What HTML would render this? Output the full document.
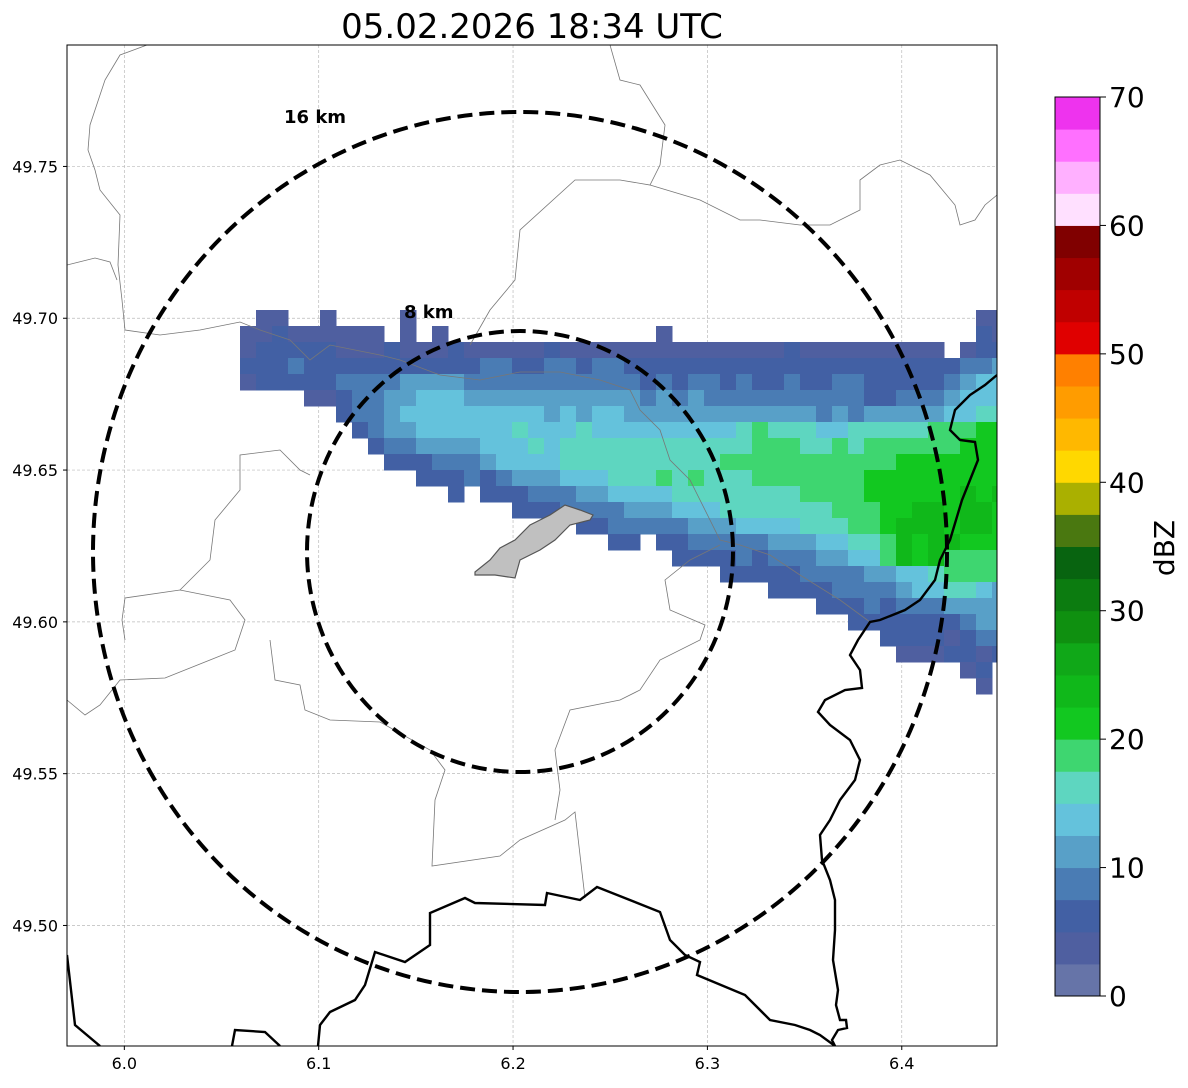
<!DOCTYPE html>
<html><head><meta charset="utf-8">
<style>
html,body{margin:0;padding:0;background:#fff;}
body{width:1188px;height:1084px;overflow:hidden;font-family:"DejaVu Sans","Liberation Sans",sans-serif;}
</style></head>
<body>
<svg id="chart" width="1188" height="1084" xmlns="http://www.w3.org/2000/svg" font-family="DejaVu Sans, Liberation Sans, sans-serif">
<defs><clipPath id="plotclip"><rect x="67" y="45" width="930" height="1001"/></clipPath></defs>
<text x="532" y="38" font-size="34" text-anchor="middle">05.02.2026 18:34 UTC</text>
<g id="grid"></g>
<g id="cells" clip-path="url(#plotclip)"></g>
<g id="map" clip-path="url(#plotclip)" fill="none">
 <polyline stroke="#777" stroke-width="0.8" points="147,45 120,55 105,80 90,125 88,150 95,170 100,190 120,215 118,265 122,300 125,330 160,335 200,330 240,322 260,330 290,340 310,360 330,345 380,355 400,360 440,375 480,380 520,372 560,372 600,380 630,390 640,410 660,430 670,460 690,480 720,540 740,545 770,555 800,575 840,600 870,622"/>
 <polyline stroke="#777" stroke-width="0.8" points="67,265 95,258 110,262 117,280"/>
 <polyline stroke="#777" stroke-width="0.8" points="470,345 490,310 515,280 520,230 575,180 620,180 650,185 660,165 665,125 640,85 620,80 610,45"/>
 <polyline stroke="#777" stroke-width="0.8" points="650,185 700,200 740,220 760,220 800,225 830,225 860,210 860,180 880,165 900,160 930,175 955,205 960,225 975,220 985,205 997,195"/>
 <polyline stroke="#777" stroke-width="0.8" points="67,700 85,715 100,705 120,680 165,678 210,660 235,650 245,620 230,600 180,590 125,598 122,620 125,640"/>
 <polyline stroke="#777" stroke-width="0.8" points="180,590 210,560 215,520 240,490 240,455 280,450 300,470 310,475"/>
 <polyline stroke="#777" stroke-width="0.8" points="270,640 275,680 300,685 305,710 330,720 380,722 430,750 445,770 435,800 432,866 500,856 520,840 565,820 575,812 585,898"/>
 <polyline stroke="#777" stroke-width="0.8" points="555,820 560,790 555,750 570,710 620,700 640,690 660,660 700,640 705,625 670,610 665,580 690,560 720,545"/>
 <polyline stroke="#000" stroke-width="2.4" points="997,375 985,385 970,395 955,410 950,430 960,440 975,442 978,460 970,480 962,500 950,540 940,560 935,580 920,600 905,610 880,620 870,622 858,640 850,655 860,670 862,688 845,690 825,700 818,712 830,725 850,740 860,760 855,780 840,800 830,820 820,835 822,860 830,880 835,900 835,930 833,960 838,990 836,1005 840,1020 846,1020 847,1028 838,1030 832,1040 835,1046"/>
 <polyline stroke="#000" stroke-width="2.4" points="67,955 75,1025 100,1046"/>
 <polyline stroke="#000" stroke-width="2.4" points="232,1046 235,1030 265,1032 280,1046"/>
 <polyline stroke="#000" stroke-width="2.4" points="318,1046 320,1025 330,1012 355,1000 365,985 375,952 405,962 430,945 430,913 465,898 475,903 545,905 547,893 580,900 597,887 660,912 670,940 685,955 700,962 697,975 745,995 770,1020 795,1025 810,1030 820,1035 835,1046"/>
 <polygon fill="#c0c0c0" stroke="#555" stroke-width="1.2" points="475,572 490,560 500,548 515,540 530,525 540,520 550,515 565,505 580,510 593,515 590,520 570,525 555,540 540,550 520,560 515,578 495,575 475,575"/>
 <ellipse cx="520" cy="552" rx="427" ry="440" stroke="#000" stroke-width="4" stroke-dasharray="15,7"/>
 <ellipse cx="520" cy="551.5" rx="213" ry="220.5" stroke="#000" stroke-width="4" stroke-dasharray="15,7"/>
</g>
<text x="284" y="123" font-size="18" font-weight="bold">16 km</text>
<text x="404" y="318" font-size="18" font-weight="bold">8 km</text>
<rect x="67" y="45" width="930" height="1001" fill="none" stroke="#000" stroke-width="1"/>
<g id="axes"></g>
<g id="cbar"></g>
<text transform="translate(1174,548) rotate(-90)" font-size="28" text-anchor="middle">dBZ</text>
</svg>
<script>
const NS='http://www.w3.org/2000/svg';
const xTicks=[6.0,6.1,6.2,6.3,6.4];
const yTicks=[49.50,49.55,49.60,49.65,49.70,49.75];
const cbarTicks=[0,10,20,30,40,50,60,70];
const levelColors=['#6674a8','#4f5fa0','#4260a4','#4a7cb4','#58a0c8','#64c2dc','#5ed6c0','#3ed670','#12c820','#10b81a','#10a818','#0f9010','#0c7c10','#086410','#4a7810','#aab000','#ffd800','#ffb800','#ff9c00','#ff8000','#e00000','#c00000','#a00000','#800000','#ffe0ff','#ffb0ff','#ff70ff','#ee33ee'];
const cellCodes='123456789a';
const D8='........';
const cellRows=[
".22..2.."+"..2....."+D8+D8+D8+"......22",
"22322222"+"2.2.2..."+D8+"..2....."+D8+"......32",
"23333322"+"23222322"+"22232222"+"22222222"+"22322222"+"2222.233",
"33343333"+"33333334"+"43344344"+"33333333"+"33333333"+"33333445",
"23333344"+"44555544"+"44444444"+"43434434"+"33433443"+"33334566",
"....2234"+"45566655"+"55555555"+"54545444"+"44444443"+"34445666",
"......34"+"45666666"+"66656566"+"55555555"+"55554545"+"55556677",
".......3"+"45566666"+"67666766"+"66666667"+"87776677"+"77788899",
D8+"34455556"+"66767777"+"77777777"+"88877878"+"88888999",
D8+".3334445"+"66667777"+"77777788"+"88888888"+"89999999",
D8+"...33343"+"45556667"+"77878777"+"88888889"+"99999999",
D8+".....3.3"+"33444556"+"66677777"+"77788889"+"99999a9a",
D8+D8+".3334444"+"55566677"+"77777888"+"99aa9aa9",
D8+D8+".....334"+"44445556"+"66677788"+"9aaa9aa9",
D8+D8+".......3"+"3.334444"+"45556677"+"8a9aa999",
D8+D8+D8+"...33334"+"34445566"+"8a9a8888",
D8+D8+D8+"......33"+"33344445"+"56678888",
D8+D8+D8+D8+".3333444"+"45667765",
D8+D8+D8+D8+"....3334"+"34445555",
D8+D8+D8+D8+"......33"+"33333455",
D8+D8+D8+D8+D8+"33332344",
D8+D8+D8+D8+D8+".2223323",
D8+D8+D8+D8+D8+".....23.",
D8+D8+D8+D8+D8+"......2."
];
const lonMin=5.9705, lonMax=6.4490, latMin=49.4603, latMax=49.7900;
function xs(lon){return 67+(lon-lonMin)/(lonMax-lonMin)*930;}
function ys(lat){return 1046-(lat-latMin)/(latMax-latMin)*1001;}
const cellOrigin={x:240,y:310,size:16};
function mk(tag,attrs,parent){const e=document.createElementNS(NS,tag);for(const k in attrs)e.setAttribute(k,attrs[k]);parent.appendChild(e);return e;}
const grid=document.getElementById('grid'), axes=document.getElementById('axes');
xTicks.forEach(t=>{const x=xs(t);
 const l=mk('line',{x1:x,x2:x,y1:45,y2:1046,stroke:'#bbb','stroke-width':0.7,'stroke-dasharray':'3,2'},grid);
 
 
 mk('line',{x1:x,x2:x,y1:1046,y2:1050,stroke:'#000'},axes);
 const tx=mk('text',{x:x,y:1069,'font-size':16,'text-anchor':'middle'},axes);tx.textContent=t.toFixed(1);
 
 
});
yTicks.forEach(t=>{const y=ys(t);
 const l=mk('line',{x1:67,x2:997,y1:y,y2:y,stroke:'#bbb','stroke-width':0.7,'stroke-dasharray':'3,2'},grid);
 
 
 mk('line',{x1:63,x2:67,y1:y,y2:y,stroke:'#000'},axes);
 const tx=mk('text',{x:58,y:y+6,'font-size':16,'text-anchor':'end'},axes);tx.textContent=t.toFixed(2);
 
 
});
const cells=document.getElementById('cells');
cellRows.forEach((row,r)=>{
 for(let c=0;c<row.length;c++){const i=cellCodes.indexOf(row[c]);if(i<0)continue;
  const rc=mk('rect',{x:cellOrigin.x+c*cellOrigin.size,y:cellOrigin.y+r*cellOrigin.size,width:cellOrigin.size+0.5,height:cellOrigin.size+0.5,fill:levelColors[i]},cells);
  
  
 }
});
const cbar=document.getElementById('cbar');
const cbTop=97,cbBot=996,vmax=70;
function cy(v){return cbBot-(v/vmax)*(cbBot-cbTop);}
levelColors.forEach((col,i)=>{const v0=i*2.5,v1=v0+2.5;
 const rc=mk('rect',{x:1055,y:cy(v1),width:45,height:cy(v0)-cy(v1)+0.5,fill:col},cbar);
 
 
});
mk('rect',{x:1055,y:cbTop,width:45,height:cbBot-cbTop,fill:'none',stroke:'#000','stroke-width':1},cbar);
cbarTicks.forEach(v=>{const y=cy(v);
 mk('line',{x1:1100,x2:1106,y1:y,y2:y,stroke:'#000'},cbar);
 const tx=mk('text',{x:1109,y:y+10,'font-size':28},cbar);tx.textContent=v;
 
 
});
</script>
</body></html>
